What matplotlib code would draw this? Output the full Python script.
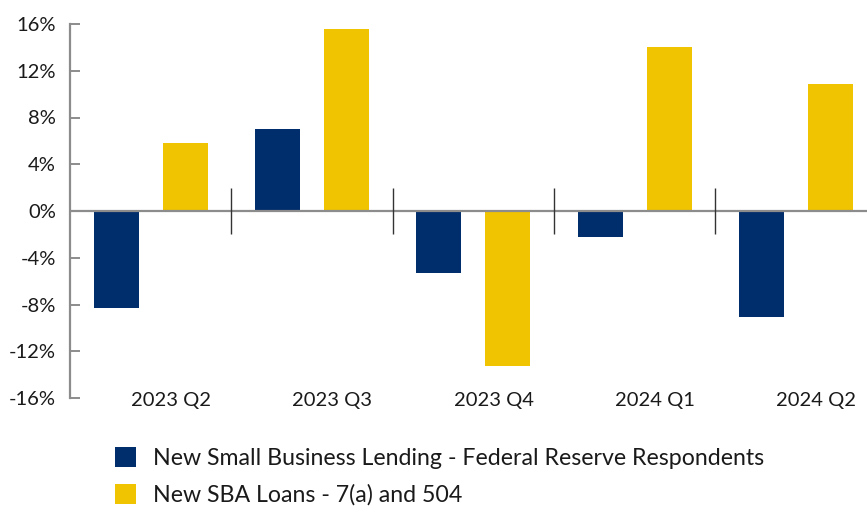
import matplotlib
matplotlib.use("Agg")
import matplotlib.pyplot as plt
from matplotlib.patches import Patch
import numpy as np

plt.rcParams['font.family'] = ['Lato', 'DejaVu Sans']

quarters = ["2023 Q2", "2023 Q3", "2023 Q4", "2024 Q1", "2024 Q2"]
fed_respondents = [-8.3, 7.0, -5.3, -2.2, -9.1]
sba_loans = [5.8, 15.6, -13.3, 14.0, 10.9]
y_ticks = [-16, -12, -8, -4, 0, 4, 8, 12, 16]
series_labels = ["New Small Business Lending - Federal Reserve Respondents",
                 "New SBA Loans - 7(a) and 504"]

NAVY = "#002D6B"
GOLD = "#F0C400"

fig = plt.figure(figsize=(8.67, 5.12), dpi=100)
ax = fig.add_axes([70 / 867, 114 / 512, 806.6 / 867, 374 / 512])

x = np.arange(len(quarters))
width = 0.279
offset = 0.214
ax.bar(x - offset, fed_respondents, width, color=NAVY, zorder=2)
ax.bar(x + offset, sba_loans, width, color=GOLD, zorder=2)

ax.set_xlim(-0.5, len(quarters) - 0.5)
ax.set_ylim(-16, 16)

# zero line and group separators
ax.axhline(0, color="#8c8c8c", lw=1.6, zorder=3)
ax.vlines(x[:-1] + 0.5, -2.0, 2.0, color="#333333", lw=1.0, zorder=3)

for side in ("top", "right", "bottom"):
    ax.spines[side].set_visible(False)
ax.spines["left"].set_color("#8c8c8c")
ax.spines["left"].set_linewidth(1.6)

ax.set_yticks(y_ticks)
ax.set_yticklabels([f"{v}%" for v in y_ticks])
ax.tick_params(axis="y", direction="in", length=7.5, width=1.4, color="#8c8c8c",
               labelsize=14.5, labelcolor="#1a1a1a", pad=10)

ax.set_xticks(x + 0.127)
ax.set_xticklabels(quarters)
ax.tick_params(axis="x", length=0, labelsize=14.5, labelcolor="#1a1a1a", pad=-4)

handles = [Patch(facecolor=NAVY, edgecolor="none"), Patch(facecolor=GOLD, edgecolor="none")]
fig.legend(handles, series_labels, loc="upper left", bbox_to_anchor=(115 / 867, 1 - 447 / 512),
           frameon=False, fontsize=16.7, borderpad=0, borderaxespad=0,
           handlelength=0.92, handleheight=0.92,
           handletextpad=0.7, labelspacing=0.66, labelcolor="#1a1a1a")

fig.savefig("out.png", dpi=100)
